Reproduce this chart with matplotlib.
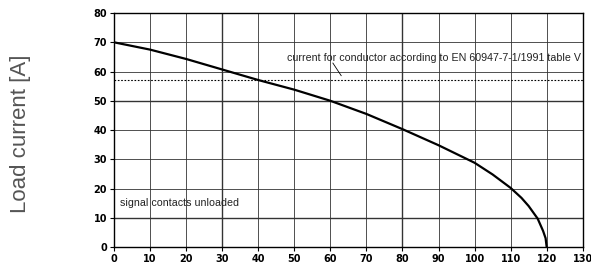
import matplotlib.pyplot as plt

# Load current vs ambient temperature
temperature = [0, 10, 20, 30, 40, 50, 60, 70, 80, 90, 100, 105, 110, 113, 115, 117.5, 119, 119.7, 120]
load_current = [70, 67.5, 64.3, 60.7, 57.1, 53.8, 50, 45.5, 40.3, 34.8, 28.8, 24.8, 20.2, 16.8, 14, 9.7, 5.5, 3, 0]
conductor_limit = 57

x_ticks = list(range(0, 131, 10))
y_ticks = list(range(0, 81, 10))

fig = plt.figure(figsize=(5.91, 2.67), dpi=100)
ax = fig.add_axes([0.193, 0.075, 0.793, 0.876])

for x in x_ticks:
    lw = 1.0 if x in (30, 80) else 0.6
    ax.axvline(x, color='#333333', lw=lw, zorder=1)
for y in y_ticks:
    lw = 1.0 if y in (10, 50) else 0.6
    ax.axhline(y, color='#333333', lw=lw, zorder=1)

ax.plot(temperature, load_current, color='black', lw=1.6, zorder=3)
ax.axhline(conductor_limit, color='black', lw=0.8, linestyle=(0, (1.5, 1.5)), zorder=2)

ax.text(48, 64.8, 'current for conductor according to EN 60947-7-1/1991 table V',
        fontsize=7.7, family='Liberation Sans', color='#222222', va='center', ha='left', zorder=4)
ax.plot([60.7, 63.0], [62.9, 58.6], color='black', lw=0.6, zorder=4)
ax.text(1.7, 15, 'signal contacts unloaded', fontsize=7.7, family='Liberation Sans',
        color='#222222', va='center', ha='left', zorder=4)

ax.set_xlim(0, 130)
ax.set_ylim(0, 80)
ax.set_xticks(x_ticks)
ax.set_yticks(y_ticks)
ax.tick_params(direction='out', length=3, width=0.8, labelsize=7, pad=2)
for lab in ax.get_xticklabels() + ax.get_yticklabels():
    lab.set_family(['Liberation Sans Narrow', 'DejaVu Sans'])
    lab.set_fontweight('bold')
for s in ax.spines.values():
    s.set_linewidth(1.0)

fig.text(0.035, 0.5, 'Load current [A]', rotation=90, va='center', ha='center',
         fontsize=16, color='#555555', family='Liberation Sans')

fig.savefig('out.png', dpi=100)
